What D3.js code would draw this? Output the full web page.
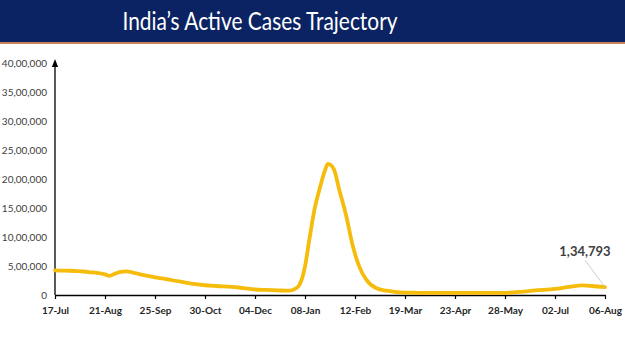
<!DOCTYPE html>
<html>
<head>
<meta charset="utf-8">
<script src="https://cdn.jsdelivr.net/npm/d3@7"></script>
<style>
  html, body { margin: 0; padding: 0; background: #fff; }
  svg { display: block; }
</style>
</head>
<body>
<div id="chart"></div>
<script>
// Data (active cases, India)
const dates = [
  "2021-07-17", "2021-07-22", "2021-07-27", "2021-08-01", "2021-08-06", "2021-08-11",
  "2021-08-16", "2021-08-21", "2021-08-24", "2021-08-28", "2021-09-01", "2021-09-05",
  "2021-09-09", "2021-09-14", "2021-09-20", "2021-09-25", "2021-10-01", "2021-10-08",
  "2021-10-15", "2021-10-22", "2021-10-30", "2021-11-07", "2021-11-18", "2021-11-26",
  "2021-12-04", "2021-12-12", "2021-12-20", "2021-12-28", "2022-01-01", "2022-01-04",
  "2022-01-08", "2022-01-11", "2022-01-15", "2022-01-18", "2022-01-22", "2022-01-24",
  "2022-01-28", "2022-02-01", "2022-02-06", "2022-02-10", "2022-02-15", "2022-02-20",
  "2022-02-27", "2022-03-06", "2022-03-12", "2022-03-19", "2022-03-28", "2022-04-07",
  "2022-04-23", "2022-05-10", "2022-05-28", "2022-06-08", "2022-06-18", "2022-07-02",
  "2022-07-12", "2022-07-21", "2022-07-28", "2022-08-06"
];
const activeCases = [
  425000, 420000, 418000, 412000, 405000, 392000,
  378000, 355000, 330000, 368000, 398000, 408000,
  392000, 360000, 330000, 305000, 282000, 250000,
  220000, 192000, 168000, 155000, 140000, 118000,
  95000, 88000, 80000, 74000, 105000, 170000,
  490000, 950000, 1520000, 1810000, 2150000, 2260000,
  2180000, 1810000, 1350000, 890000, 490000, 260000,
  115000, 75000, 55000, 42000, 38000, 35000,
  35000, 35000, 38000, 55000, 80000, 105000,
  140000, 165000, 155000, 134793
];
const xTickLabels = ["17-Jul", "21-Aug", "25-Sep", "30-Oct", "04-Dec", "08-Jan",
                     "12-Feb", "19-Mar", "23-Apr", "28-May", "02-Jul", "06-Aug"];
const xTickDates = ["2021-07-17", "2021-08-21", "2021-09-25", "2021-10-30", "2021-12-04", "2022-01-08",
                    "2022-02-12", "2022-03-19", "2022-04-23", "2022-05-28", "2022-07-02", "2022-08-06"];
const yTicks = [0, 500000, 1000000, 1500000, 2000000, 2500000, 3000000, 3500000, 4000000];
const title = "India\u2019s Active Cases Trajectory";

const parse = d3.timeParse("%Y-%m-%d");
const data = dates.map((d, i) => ({ date: parse(d), value: activeCases[i] }));

// Indian digit grouping, e.g. 1,34,793 / 40,00,000
function indianFormat(n) {
  const s = String(Math.round(n));
  if (s.length <= 3) return s;
  const last3 = s.slice(-3);
  let rest = s.slice(0, -3);
  const parts = [];
  while (rest.length > 2) {
    parts.unshift(rest.slice(-2));
    rest = rest.slice(0, -2);
  }
  if (rest) parts.unshift(rest);
  return parts.join(",") + "," + last3;
}

const width = 625, height = 351;
const margin = { top: 63, right: 20, bottom: 56, left: 55 };

const svg = d3.select("#chart").append("svg")
  .attr("width", width)
  .attr("height", height);

// Title band
svg.append("rect")
  .attr("x", 0).attr("y", 0)
  .attr("width", width).attr("height", 42)
  .attr("fill", "#0b2362");
svg.append("rect")
  .attr("x", 0).attr("y", 42)
  .attr("width", width).attr("height", 2)
  .attr("fill", "#c9825a");
svg.append("text")
  .attr("x", 260)
  .attr("y", 30)
  .attr("text-anchor", "middle")
  .attr("fill", "#fff")
  .attr("textLength", 275)
  .attr("lengthAdjust", "spacingAndGlyphs")
  .style("font-family", "Lato, 'Open Sans', sans-serif")
  .style("font-size", "25px")
  .text(title);

// Scales
const xScale = d3.scaleTime()
  .domain([parse(xTickDates[0]), parse(xTickDates[xTickDates.length - 1])])
  .range([margin.left, width - margin.right]);

const yScale = d3.scaleLinear()
  .domain([0, 4000000])
  .range([height - margin.bottom, margin.top]);

// Y axis labels (no ticks)
svg.append("g")
  .selectAll("text")
  .data(yTicks)
  .join("text")
  .attr("x", 47)
  .attr("y", (d) => yScale(d))
  .attr("dy", "0.35em")
  .attr("text-anchor", "end")
  .attr("fill", "#404040")
  .style("font-family", "Lato, 'Open Sans', sans-serif")
  .style("font-size", "10px")
  .text((d) => indianFormat(d));

// Y axis line with arrow
svg.append("defs").append("marker")
  .attr("id", "arrow")
  .attr("viewBox", "0 0 10 10")
  .attr("refX", 5).attr("refY", 5)
  .attr("markerWidth", 6).attr("markerHeight", 6)
  .attr("orient", "auto")
  .append("path")
  .attr("d", "M0,1 L10,5 L0,9 z")
  .attr("fill", "#000");

svg.append("line")
  .attr("x1", margin.left).attr("x2", margin.left)
  .attr("y1", yScale(0)).attr("y2", yScale(4000000))
  .attr("stroke", "#000")
  .attr("stroke-width", 1.3)
  .attr("marker-end", "url(#arrow)");

// X axis
const xAxis = svg.append("g")
  .attr("transform", `translate(0, ${yScale(0)})`)
  .call(d3.axisBottom(xScale)
    .tickValues(xTickDates.map(parse))
    .tickFormat((d, i) => xTickLabels[i])
    .tickSizeInner(4)
    .tickSizeOuter(0)
    .tickPadding(8));

xAxis.select(".domain").attr("stroke", "#000").attr("stroke-width", 1.3);
xAxis.selectAll(".tick line").attr("stroke", "#000").attr("stroke-width", 1.2);
xAxis.selectAll(".tick text")
  .attr("fill", "#262626")
  .style("font-family", "Lato, 'Open Sans', sans-serif")
  .style("font-size", "10px")
  .style("font-weight", "bold");

// Line
const lineGenerator = d3.line()
  .x((d) => xScale(d.date))
  .y((d) => yScale(d.value))
  .curve(d3.curveMonotoneX);

svg.append("path")
  .datum(data)
  .attr("d", lineGenerator)
  .attr("fill", "none")
  .attr("stroke", "#f6bc0c")
  .attr("stroke-width", 3.8)
  .attr("stroke-linejoin", "round")
  .attr("stroke-linecap", "round");

// Last value annotation
const last = data[data.length - 1];
const lx = xScale(last.date), ly = yScale(last.value);
svg.append("line")
  .attr("x1", lx - 20).attr("y1", ly - 27)
  .attr("x2", lx).attr("y2", ly)
  .attr("stroke", "#bfbfbf")
  .attr("stroke-width", 0.8);
svg.append("text")
  .attr("x", lx - 20)
  .attr("y", ly - 31)
  .attr("text-anchor", "middle")
  .attr("fill", "#404040")
  .style("font-family", "Lato, 'Open Sans', sans-serif")
  .style("font-size", "13px")
  .style("font-weight", "bold")
  .text(indianFormat(last.value));
</script>
</body>
</html>
